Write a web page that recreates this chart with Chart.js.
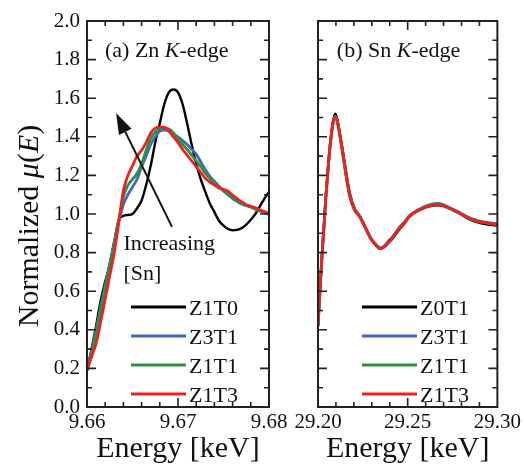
<!DOCTYPE html>
<html>
<head>
<meta charset="utf-8">
<script src="https://cdn.jsdelivr.net/npm/chart.js@4.4.0/dist/chart.umd.min.js"></script>
<style>
  html, body { margin: 0; padding: 0; background: #fff; }
  #wrap { position: relative; width: 524px; height: 468px; }
  canvas { position: absolute; left: 0; top: 0; }
</style>
</head>
<body>
<div id="wrap">
  <canvas id="chartZn" width="524" height="468"></canvas>
  <canvas id="chartSn" width="524" height="468"></canvas>
</div>
<script>
// (a) Zn K-edge
var energyZn = [9.6600, 9.6605, 9.6610, 9.6615, 9.6620, 9.6625, 9.6630, 9.6635, 9.6640, 9.6645,
                9.6650, 9.6655, 9.6660, 9.6665, 9.6670, 9.6675, 9.6680, 9.6685, 9.6690, 9.6695,
                9.6700, 9.6705, 9.6710, 9.6715, 9.6720, 9.6725, 9.6730, 9.6735, 9.6740, 9.6745,
                9.6750, 9.6755, 9.6760, 9.6765, 9.6770, 9.6775, 9.6780, 9.6785, 9.6790, 9.6795, 9.6800];
var znZ1T0 = [0.19, 0.30, 0.42, 0.55, 0.65, 0.74, 0.86, 0.97, 0.99, 0.995,
              1.00, 1.03, 1.07, 1.15, 1.25, 1.37, 1.47, 1.57, 1.63, 1.645,
              1.63, 1.57, 1.47, 1.36, 1.26, 1.18, 1.115, 1.055, 1.01, 0.965,
              0.94, 0.922, 0.916, 0.918, 0.927, 0.945, 0.97, 1.00, 1.04, 1.08, 1.115];
var znZ3T1 = [0.19, 0.29, 0.40, 0.52, 0.63, 0.74, 0.85, 0.96, 1.05, 1.10,
              1.14, 1.18, 1.245, 1.30, 1.36, 1.40, 1.43, 1.435, 1.43, 1.415,
              1.40, 1.38, 1.36, 1.335, 1.31, 1.27, 1.23, 1.195, 1.17, 1.145,
              1.12, 1.10, 1.08, 1.065, 1.052, 1.043, 1.037, 1.03, 1.02, 1.012, 1.005];
var znZ1T1 = [0.19, 0.28, 0.38, 0.50, 0.62, 0.73, 0.85, 0.97, 1.09, 1.15,
              1.18, 1.21, 1.26, 1.33, 1.39, 1.425, 1.44, 1.445, 1.44, 1.42,
              1.39, 1.36, 1.335, 1.305, 1.275, 1.245, 1.21, 1.185, 1.16, 1.14,
              1.12, 1.10, 1.085, 1.07, 1.055, 1.045, 1.035, 1.025, 1.015, 1.01, 1.00];
var znZ1T3 = [0.19, 0.26, 0.33, 0.44, 0.56, 0.68, 0.80, 0.96, 1.12, 1.20,
              1.25, 1.30, 1.33, 1.37, 1.42, 1.445, 1.45, 1.45, 1.43, 1.40,
              1.37, 1.335, 1.305, 1.275, 1.245, 1.215, 1.185, 1.165, 1.15, 1.135,
              1.128, 1.118, 1.098, 1.08, 1.063, 1.048, 1.04, 1.032, 1.02, 1.01, 0.997];
var znLabels = ['Z1T0', 'Z3T1', 'Z1T1', 'Z1T3'];
var znTicks = [9.66, 9.67, 9.68];

// (b) Sn K-edge
var energySn = [29.2000, 29.2011, 29.2022, 29.2033, 29.2044, 29.2055, 29.2066, 29.2077, 29.2088, 29.2097,
                29.2105, 29.2116, 29.2127, 29.2138, 29.2149, 29.2160, 29.2177, 29.2204, 29.2232, 29.2260,
                29.2298, 29.2331, 29.2348, 29.2370, 29.2398, 29.2414, 29.2453, 29.2481, 29.2508, 29.2564,
                29.2619, 29.2674, 29.2729, 29.2785, 29.2840, 29.2895, 29.2950, 29.3000];
var snZ0T1 = [0.42, 0.61, 0.79, 0.94, 1.10, 1.23, 1.35, 1.44, 1.50, 1.52,
              1.50, 1.45, 1.39, 1.33, 1.265, 1.20, 1.11, 1.03, 0.99, 0.94,
              0.87, 0.83, 0.82, 0.83, 0.855, 0.87, 0.92, 0.95, 0.985, 1.02,
              1.04, 1.045, 1.03, 1.005, 0.975, 0.955, 0.945, 0.94];
var snZ3T1 = [0.42, 0.60, 0.78, 0.93, 1.09, 1.22, 1.34, 1.43, 1.49, 1.505,
              1.49, 1.44, 1.38, 1.32, 1.25, 1.185, 1.10, 1.025, 0.99, 0.94,
              0.87, 0.835, 0.825, 0.835, 0.865, 0.88, 0.93, 0.958, 0.99, 1.025,
              1.048, 1.055, 1.035, 1.01, 0.982, 0.965, 0.955, 0.95];
var snZ1T1 = [0.42, 0.60, 0.78, 0.93, 1.09, 1.22, 1.34, 1.43, 1.49, 1.505,
              1.49, 1.44, 1.38, 1.315, 1.25, 1.18, 1.095, 1.025, 0.99, 0.937,
              0.868, 0.832, 0.822, 0.832, 0.862, 0.878, 0.928, 0.955, 0.988, 1.022,
              1.044, 1.05, 1.032, 1.007, 0.98, 0.962, 0.953, 0.946];
var snZ1T3 = [0.42, 0.60, 0.78, 0.93, 1.09, 1.22, 1.34, 1.43, 1.49, 1.50,
              1.49, 1.44, 1.38, 1.31, 1.245, 1.18, 1.09, 1.02, 0.985, 0.934,
              0.865, 0.83, 0.82, 0.83, 0.86, 0.875, 0.925, 0.952, 0.986, 1.02,
              1.041, 1.047, 1.03, 1.005, 0.977, 0.96, 0.952, 0.943];
var snLabels = ['Z0T1', 'Z3T1', 'Z1T1', 'Z1T3'];
var snTicks = [29.20, 29.25, 29.30];

var yTicks = [0.0, 0.2, 0.4, 0.6, 0.8, 1.0, 1.2, 1.4, 1.6, 1.8, 2.0];
var seriesColors = ['#000000', '#4466bb', '#279445', '#f0201e'];

var serif = 'Liberation Serif, Times New Roman, serif';
var ink = '#111111';

function makeDatasets(labels, xs, ys) {
    return labels.map(function (lab, i) {
        return {
            label: lab,
            data: xs.map(function (x, j) { return { x: x, y: ys[i][j] }; }),
            borderColor: seriesColors[i],
            borderWidth: i === 0 ? 2.4 : 2.8,
            pointRadius: 0,
            cubicInterpolationMode: 'monotone',
            order: 3 - i
        };
    });
}

// draws text made of plain / italic pieces, starting at x (left) on baseline y
function richText(ctx, parts, x, y, size) {
    parts.forEach(function (p) {
        ctx.font = (p.i ? 'italic ' : '') + size + 'px ' + serif;
        ctx.fillText(p.t, x, y);
        x += ctx.measureText(p.t).width;
    });
}
function richWidth(ctx, parts, size) {
    var w = 0;
    parts.forEach(function (p) {
        ctx.font = (p.i ? 'italic ' : '') + size + 'px ' + serif;
        w += ctx.measureText(p.t).width;
    });
    return w;
}

// frame, inward ticks, legend, panel label
var decoPlugin = {
    id: 'deco',
    afterDatasetsDraw: function (chart, args, o) {
        var ctx = chart.ctx, a = chart.chartArea;
        var xs = chart.scales.x, ys = chart.scales.y;
        ctx.save();
        ctx.strokeStyle = '#222';
        ctx.lineWidth = 2;
        ctx.strokeRect(a.left, a.top, a.right - a.left, a.bottom - a.top);

        ctx.lineWidth = 1.6;
        ctx.beginPath();
        var n = Math.round((xs.max - xs.min) / o.xMinor);
        for (var i = 1; i < n; i++) {
            var px = xs.getPixelForValue(xs.min + i * o.xMinor);
            var len = (i % o.xEvery === 0) ? 9 : 5;
            ctx.moveTo(px, a.bottom); ctx.lineTo(px, a.bottom - len);
            ctx.moveTo(px, a.top); ctx.lineTo(px, a.top + len);
        }
        var m = Math.round((ys.max - ys.min) / 0.1);
        for (var k = 1; k < m; k++) {
            var py = ys.getPixelForValue(ys.min + k * 0.1);
            var l2 = (k % 2 === 0) ? 9 : 5;
            ctx.moveTo(a.left, py); ctx.lineTo(a.left + l2, py);
            ctx.moveTo(a.right, py); ctx.lineTo(a.right - l2, py);
        }
        ctx.stroke();

        // legend inside the plot
        ctx.textAlign = 'left';
        ctx.textBaseline = 'alphabetic';
        chart.data.datasets.forEach(function (ds, i) {
            var y = a.bottom - 100 + 29 * i;
            ctx.strokeStyle = ds.borderColor;
            ctx.lineWidth = 3;
            ctx.beginPath();
            ctx.moveTo(a.left + 44, y); ctx.lineTo(a.left + 99, y);
            ctx.stroke();
            ctx.fillStyle = ink;
            ctx.font = '22px ' + serif;
            ctx.fillText(ds.label, a.left + 102, y + 8);
        });

        // panel label
        ctx.fillStyle = ink;
        richText(ctx, o.title, xs.getPixelForValue(o.titleAt[0]), ys.getPixelForValue(o.titleAt[1]), 22);
        ctx.restore();
    }
};

// "Increasing [Sn]" arrow in panel (a)
var arrowPlugin = {
    id: 'arrowNote',
    afterDatasetsDraw: function (chart) {
        var ctx = chart.ctx, xs = chart.scales.x, ys = chart.scales.y;
        var x0 = xs.getPixelForValue(9.66934), y0 = ys.getPixelForValue(0.933);
        var x1 = xs.getPixelForValue(9.66319), y1 = ys.getPixelForValue(1.523);
        var ang = Math.atan2(y1 - y0, x1 - x0);
        var hl = 21, hw = 7;
        var bx = x1 - hl * Math.cos(ang), by = y1 - hl * Math.sin(ang);
        ctx.save();
        ctx.strokeStyle = '#111';
        ctx.fillStyle = '#111';
        ctx.lineWidth = 2;
        ctx.beginPath();
        ctx.moveTo(x0, y0); ctx.lineTo(bx, by);
        ctx.stroke();
        ctx.beginPath();
        ctx.moveTo(x1, y1);
        ctx.lineTo(bx + hw * Math.sin(ang), by - hw * Math.cos(ang));
        ctx.lineTo(bx - hw * Math.sin(ang), by + hw * Math.cos(ang));
        ctx.closePath();
        ctx.fill();

        ctx.fillStyle = ink;
        ctx.font = '22px ' + serif;
        ctx.textAlign = 'left';
        ctx.textBaseline = 'alphabetic';
        var tx = xs.getPixelForValue(9.6640), ty = ys.getPixelForValue(0.813);
        ctx.fillText('Increasing', tx, ty);
        ctx.fillText('[Sn]', tx, ty + 30);
        ctx.restore();
    }
};

// y title with italic mu and E
var yTitlePlugin = {
    id: 'yTitle',
    afterDraw: function (chart) {
        var ctx = chart.ctx;
        var parts = [{ t: 'Normalized ' }, { t: '\u03bc', i: true }, { t: '(' }, { t: 'E', i: true }, { t: ')' }];
        ctx.save();
        ctx.fillStyle = ink;
        ctx.textBaseline = 'alphabetic';
        ctx.textAlign = 'left';
        var w = richWidth(ctx, parts, 30);
        ctx.translate(37.5, 226);
        ctx.rotate(-Math.PI / 2);
        richText(ctx, parts, -w / 2, 0, 30);
        ctx.restore();
    }
};

function panelOptions(xMin, xMax, xTickList, showY, padding, deco) {
    return {
        responsive: false,
        animation: false,
        devicePixelRatio: 1,
        layout: { padding: padding },
        plugins: { legend: { display: false }, tooltip: { enabled: false }, deco: deco },
        scales: {
            x: {
                type: 'linear',
                min: xMin, max: xMax,
                grid: { display: false, drawTicks: false },
                border: { display: false },
                afterBuildTicks: function (s) { s.ticks = xTickList.map(function (v) { return { value: v }; }); },
                afterFit: function (s) { s.height = 61; },
                ticks: {
                    padding: 3,
                    color: ink,
                    font: { family: serif, size: 21 },
                    maxRotation: 0,
                    callback: function (v) { return v.toFixed(2); }
                },
                title: {
                    display: true,
                    text: 'Energy [keV]',
                    color: ink,
                    font: { family: serif, size: 30 },
                    padding: { top: 0, bottom: 1 }
                }
            },
            y: {
                min: 0, max: 2,
                grid: { display: false, drawTicks: false },
                border: { display: false },
                afterBuildTicks: function (s) { s.ticks = yTicks.map(function (v) { return { value: v }; }); },
                afterFit: function (s) { s.width = showY ? 87 : 318; },
                ticks: {
                    display: showY,
                    padding: 7,
                    color: ink,
                    font: { family: serif, size: 21 },
                    callback: function (v) { return v.toFixed(1); }
                }
            }
        }
    };
}

new Chart(document.getElementById('chartZn'), {
    type: 'line',
    data: { datasets: makeDatasets(znLabels, energyZn, [znZ1T0, znZ3T1, znZ1T1, znZ1T3]) },
    options: panelOptions(9.66, 9.68, znTicks, true, { left: 0, top: 21, right: 255, bottom: 0 }, {
        xMinor: 0.002, xEvery: 5,
        title: [{ t: '(a) Zn ' }, { t: 'K', i: true }, { t: '-edge' }],
        titleAt: [9.66198, 1.813]
    }),
    plugins: [decoPlugin, arrowPlugin, yTitlePlugin]
});

new Chart(document.getElementById('chartSn'), {
    type: 'line',
    data: { datasets: makeDatasets(snLabels, energySn, [snZ0T1, snZ3T1, snZ1T1, snZ1T3]) },
    options: panelOptions(29.20, 29.30, snTicks, false, { left: 0, top: 21, right: 25, bottom: 0 }, {
        xMinor: 0.01, xEvery: 5,
        title: [{ t: '(b) Sn ' }, { t: 'K', i: true }, { t: '-edge' }],
        titleAt: [29.2105, 1.813]
    }),
    plugins: [decoPlugin]
});
</script>
</body>
</html>
